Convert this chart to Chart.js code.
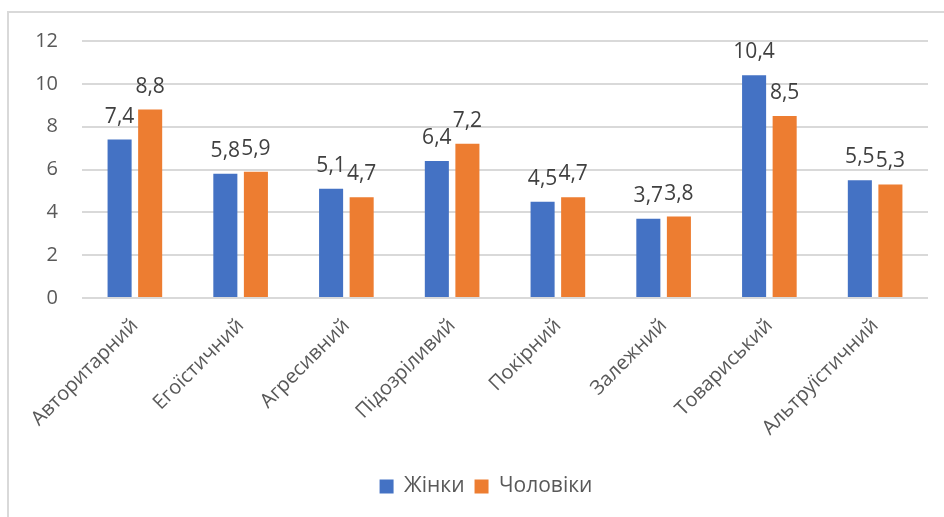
<!DOCTYPE html>
<html>
<head>
<meta charset="utf-8">
<script src="https://cdn.jsdelivr.net/npm/chart.js@4"></script>
<style>
  html, body { margin: 0; padding: 0; background: #fff; }
  #wrap { position: relative; width: 944px; height: 517px; }
  #frame { position: absolute; left: 7px; top: 11px; right: -2px; bottom: -2px; border-left: 2px solid #d9d9d9; border-top: 2px solid #d9d9d9; }
  canvas { position: absolute; left: 0; top: 0; }
</style>
</head>
<body>
<div id="wrap">
  <div id="frame"></div>
  <canvas id="chart" width="944" height="517"></canvas>
</div>
<script>
// ── DATA ──
const CATEGORIES = ['Авторитарний', 'Егоїстичний', 'Агресивний', 'Підозріливий', 'Покірний', 'Залежний', 'Товариський', 'Альтруїстичний'];
const WOMEN = [7.4, 5.8, 5.1, 6.4, 4.5, 3.7, 10.4, 5.5];
const MEN   = [8.8, 5.9, 4.7, 7.2, 4.7, 3.8, 8.5, 5.3];
const Y_TICKS = [0, 2, 4, 6, 8, 10, 12];

const COLORS = { blue: '#4472C4', orange: '#ED7D31', text: '#595959', label: '#404040', grid: '#d9d9d9' };
const FONT = "'Open Sans', sans-serif";

// value labels above each bar, decimal comma
const barLabels = {
  id: 'barLabels',
  afterDatasetsDraw(chart) {
    const { ctx } = chart;
    ctx.save();
    ctx.font = `21px ${FONT}`;
    ctx.fillStyle = COLORS.label;
    ctx.textAlign = 'center';
    ctx.textBaseline = 'alphabetic';
    chart.data.datasets.forEach((ds, i) => {
      chart.getDatasetMeta(i).data.forEach((el, j) => {
        ctx.fillText(String(ds.data[j]).replace('.', ','), el.x, el.y - 17);
      });
    });
    ctx.restore();
  }
};

// nudge the legend a bit right of the canvas centre
const legendShift = {
  id: 'legendShift',
  afterLayout(chart) {
    chart.legend.left += 22;
    chart.legend.right += 22;
  }
};

new Chart(document.getElementById('chart'), {
  type: 'bar',
  data: {
    labels: CATEGORIES,
    datasets: [
      { label: 'Жінки', data: WOMEN, backgroundColor: COLORS.blue },
      { label: 'Чоловіки', data: MEN, backgroundColor: COLORS.orange }
    ]
  },
  options: {
    responsive: false,
    animation: false,
    categoryPercentage: 0.578,
    barPercentage: 0.787,
    layout: { padding: { top: 41, right: 16, left: 0, bottom: 10 } },
    plugins: {
      tooltip: { enabled: false },
      legend: {
        position: 'bottom',
        labels: { color: COLORS.text, font: { family: FONT, size: 21 }, boxWidth: 14, boxHeight: 14, padding: 10 }
      }
    },
    scales: {
      x: {
        grid: { display: false },
        border: { display: false },
        ticks: { color: COLORS.text, font: { family: FONT, size: 20 }, minRotation: 45, maxRotation: 45, padding: 8 },
        afterFit: s => { s.height = 168; }
      },
      y: {
        min: 0, max: 12,
        afterBuildTicks: s => { s.ticks = Y_TICKS.map(v => ({ value: v })); },
        grid: { color: COLORS.grid, lineWidth: 2, drawTicks: false },
        border: { display: false },
        ticks: { color: COLORS.text, font: { family: FONT, size: 20 }, padding: 24 },
        afterFit: s => { s.width = 82; }
      }
    }
  },
  plugins: [barLabels, legendShift]
});
</script>
</body>
</html>
